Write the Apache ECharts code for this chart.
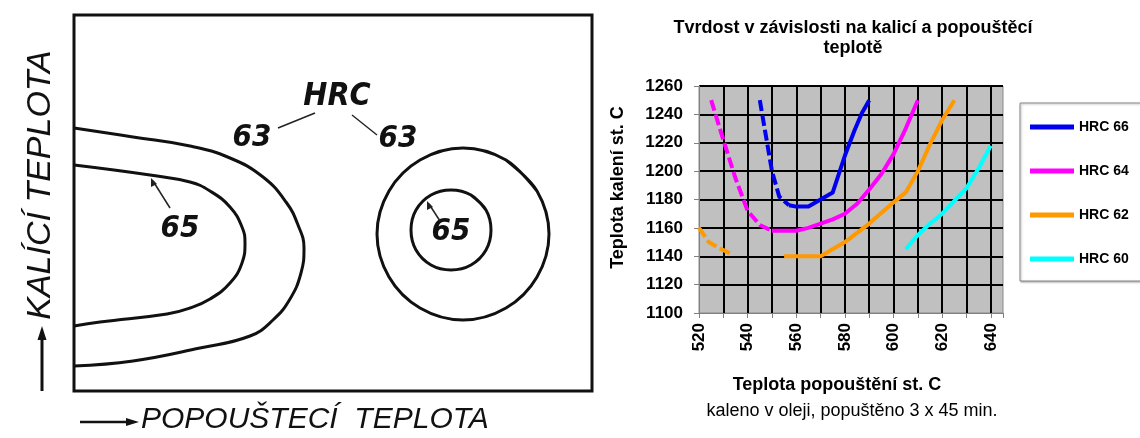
<!DOCTYPE html>
<html>
<head>
<meta charset="utf-8">
<script src="https://cdn.jsdelivr.net/npm/echarts@6/dist/echarts.min.js"></script>
<style>
  html, body { margin: 0; padding: 0; background: #fff; }
  #chart { width: 1140px; height: 438px; }
</style>
</head>
<body>
<div id="chart"></div>
<script>
// pravy graf - tvrdost HRC (popousteci teplota, kalici teplota)
var legendNames = ['HRC 66', 'HRC 64', 'HRC 62', 'HRC 60'];
var hrc66Solid = [[557, 1176], [560, 1175], [565, 1175], [570, 1180], [575, 1185], [580, 1211], [584, 1229], [587, 1241], [590, 1250]];
var hrc66Dash = [[545, 1250], [550, 1200], [553, 1182], [557, 1176]];
var hrc64Solid = [[550, 1158], [560, 1158], [565, 1160], [570, 1163], [575, 1166], [580, 1170], [585, 1177], [590, 1187], [595, 1198], [600, 1212], [605, 1230], [610, 1250]];
var hrc64Dash = [[525, 1250], [530, 1222], [535, 1195], [540, 1172], [545, 1162], [550, 1158]];
var hrc62Solid = [[555, 1140], [570, 1140], [580, 1150], [590, 1163], [600, 1178], [605, 1185], [610, 1200], [615, 1219], [620, 1236], [625, 1250]];
var hrc62Dash = [[520, 1160], [524, 1150], [528, 1146], [534, 1141]];
var hrc60Solid = [[605, 1145], [610, 1155], [615, 1163], [620, 1170], [625, 1179], [630, 1188], [635, 1202], [640, 1218]];

// levy obrazek - izolinie HRC (souradnice v ramecku obrazku)
var left63 = [[74, 128], [133, 137], [190, 146], [230, 158], [263, 177], [286, 202], [298, 225], [304, 248], [301, 273], [290, 299], [273, 320], [250, 336], [200, 348], [133, 361], [74, 366]];
var left65 = [[74, 165], [150, 175], [190, 182], [210, 191], [230, 207], [242, 227], [245, 243], [242, 263], [230, 283], [210, 299], [190, 308], [167, 314], [100, 322], [74, 326]];
var right63 = [[537, 191], [506, 160], [463, 148], [420, 160], [389, 191], [377, 234], [389, 277], [420, 308], [463, 320], [506, 308], [537, 277], [549, 234], [537, 191], [506, 160]];
var right65 = [[486, 210], [471, 195], [451, 190], [431, 195], [416, 210], [411, 230], [416, 250], [431, 265], [451, 270], [471, 265], [486, 250], [491, 230], [486, 210], [471, 195]];

var colors = ['#0000ee', '#ff00ff', '#ff9900', '#00ffff'];
var font = "'Liberation Sans', Arial, sans-serif";
var drawFont = "'Liberation Sans Narrow', 'DejaVu Sans Condensed', sans-serif";

var chart = echarts.init(document.getElementById('chart'));

function hrcLine(name, data, color, dashed) {
  return {
    name: name,
    type: 'line',
    data: data,
    symbol: 'none',
    xAxisIndex: 0,
    yAxisIndex: 0,
    lineStyle: { color: color, width: 4, type: dashed ? [11, 4] : 'solid', join: 'round' },
    itemStyle: { color: color },
    z: 5
  };
}

function contour(name, data, smooth) {
  return {
    name: name,
    type: 'line',
    data: data,
    symbol: 'none',
    smooth: smooth,
    xAxisIndex: 1,
    yAxisIndex: 1,
    lineStyle: { color: '#111', width: 3 },
    z: 3
  };
}

var option = {
  animation: false,
  title: [
    {
      text: 'Tvrdost v závislosti na kalicí a popouštěcí\nteplotě',
      left: 853,
      top: 18,
      textAlign: 'center',
      padding: 0,
      textStyle: { fontFamily: font, fontSize: 18, fontWeight: 'bold', color: '#000', lineHeight: 20 }
    },
    {
      text: 'kaleno v oleji, popuštěno 3 x 45 min.',
      left: 852,
      top: 402,
      textAlign: 'center',
      padding: 0,
      textStyle: { fontFamily: font, fontSize: 18, fontWeight: 'normal', color: '#000' }
    }
  ],
  legend: {
    data: legendNames.map(function (n) { return { name: n, icon: 'rect' }; }),
    orient: 'vertical',
    left: 1020,
    top: 103,
    padding: [17, 40, 15, 10],
    itemGap: 30,
    itemWidth: 44,
    itemHeight: 5,
    backgroundColor: '#fff',
    borderColor: '#888',
    borderWidth: 1,
    shadowColor: 'rgba(0,0,0,0.3)',
    shadowBlur: 2,
    shadowOffsetX: 1,
    shadowOffsetY: 1,
    textStyle: { fontFamily: font, fontSize: 14, fontWeight: 'bold', color: '#000', lineHeight: 14 }
  },
  grid: [
    {
      left: 699, top: 86, width: 304, height: 227,
      show: true, backgroundColor: '#c0c0c0', borderColor: '#8a8a8a', borderWidth: 1
    },
    {
      left: 74, top: 15, width: 518, height: 376,
      show: true, backgroundColor: 'transparent', borderColor: '#111', borderWidth: 3
    }
  ],
  xAxis: [
    {
      type: 'value', gridIndex: 0, min: 520, max: 645, interval: 10,
      name: 'Teplota popouštění st. C',
      nameLocation: 'middle', nameGap: 63,
      nameTextStyle: { fontFamily: font, fontSize: 18, fontWeight: 'bold', color: '#000', padding: [0, 28, 0, 0] },
      axisLine: { lineStyle: { color: '#808080', width: 1 } },
      axisTick: { length: 5, lineStyle: { color: '#808080' } },
      axisLabel: {
        rotate: 90, margin: 10, fontFamily: font, fontSize: 17, fontWeight: 'bold', color: '#000',
        formatter: function (v) { return v % 20 === 0 ? String(v) : ''; }
      },
      splitLine: { show: true, showMinLine: false, showMaxLine: false, lineStyle: { color: '#000', width: 2 } }
    },
    {
      type: 'value', gridIndex: 1, min: 74, max: 592, show: false, splitLine: { show: false }
    }
  ],
  yAxis: [
    {
      type: 'value', gridIndex: 0, min: 1100, max: 1260, interval: 20,
      name: 'Teplota kalení st. C',
      nameLocation: 'middle', nameGap: 72,
      nameTextStyle: { fontFamily: font, fontSize: 18, fontWeight: 'bold', color: '#000', padding: [0, 0, 0, 24] },
      axisLine: { show: true, lineStyle: { color: '#808080', width: 1 } },
      axisTick: { show: true, length: 5, lineStyle: { color: '#808080' } },
      axisLabel: {
        margin: 16, fontFamily: font, fontSize: 17, fontWeight: 'bold', color: '#000',
        formatter: function (v) { return String(v); }
      },
      splitLine: { show: true, showMinLine: false, lineStyle: { color: '#000', width: 2 } }
    },
    {
      type: 'value', gridIndex: 1, min: 15, max: 391, inverse: true, show: false, splitLine: { show: false }
    }
  ],
  series: [
    hrcLine('HRC 66', hrc66Solid, colors[0], false),
    hrcLine('HRC 66', hrc66Dash, colors[0], true),
    hrcLine('HRC 64', hrc64Solid, colors[1], false),
    hrcLine('HRC 64', hrc64Dash, colors[1], true),
    hrcLine('HRC 62', hrc62Solid, colors[2], false),
    hrcLine('HRC 62', hrc62Dash, colors[2], true),
    hrcLine('HRC 60', hrc60Solid, colors[3], false),
    contour('izo63L', left63, 0.45),
    contour('izo65L', left65, 0.45),
    contour('izo63R', right63, 0.35),
    contour('izo65R', right65, 0.35)
  ],
  graphic: [
    // popisky leveho obrazku
    {
      type: 'text', x: 41, y: 185, rotation: Math.PI / 2,
      style: { text: 'KALÍCÍ TEPLOTA', font: 'italic 34px ' + font, fill: '#111', align: 'center', verticalAlign: 'middle' }
    },
    { type: 'line', shape: { x1: 42, y1: 391, x2: 42, y2: 336 }, style: { stroke: '#111', lineWidth: 3 } },
    { type: 'polygon', shape: { points: [[42, 326], [37.5, 340], [46.5, 340]] }, style: { fill: '#111' } },
    { type: 'line', shape: { x1: 80, y1: 422, x2: 128, y2: 422 }, style: { stroke: '#111', lineWidth: 2.5 } },
    { type: 'polygon', shape: { points: [[139, 422], [126, 418], [126, 426]] }, style: { fill: '#111' } },
    {
      type: 'text', x: 141, y: 420,
      style: { text: 'POPOUŠTECÍ  TEPLOTA', font: 'italic 30px ' + font, fill: '#111', align: 'left', verticalAlign: 'middle' }
    },
    {
      type: 'text', x: 337, y: 97,
      style: { text: 'HRC', font: 'italic bold 32px ' + drawFont, fill: '#111', align: 'center', verticalAlign: 'middle' }
    },
    {
      type: 'text', x: 252, y: 138,
      style: { text: '63', font: 'italic bold 31px ' + drawFont, fill: '#111', align: 'center', verticalAlign: 'middle' }
    },
    {
      type: 'text', x: 398, y: 139,
      style: { text: '63', font: 'italic bold 31px ' + drawFont, fill: '#111', align: 'center', verticalAlign: 'middle' }
    },
    {
      type: 'text', x: 180, y: 229,
      style: { text: '65', font: 'italic bold 31px ' + drawFont, fill: '#111', align: 'center', verticalAlign: 'middle' }
    },
    {
      type: 'text', x: 451, y: 232,
      style: { text: '65', font: 'italic bold 31px ' + drawFont, fill: '#111', align: 'center', verticalAlign: 'middle' }
    },
    { type: 'line', shape: { x1: 278, y1: 128, x2: 315, y2: 113 }, style: { stroke: '#222', lineWidth: 1.5 } },
    { type: 'line', shape: { x1: 352, y1: 115, x2: 377, y2: 135 }, style: { stroke: '#222', lineWidth: 1.5 } },
    { type: 'line', shape: { x1: 170, y1: 208, x2: 153, y2: 181 }, style: { stroke: '#222', lineWidth: 1.5 } },
    { type: 'polygon', shape: { points: [[151, 178], [151, 187], [157, 184]] }, style: { fill: '#222' } },
    { type: 'line', shape: { x1: 440, y1: 221, x2: 429, y2: 204 }, style: { stroke: '#222', lineWidth: 1.5 } },
    { type: 'polygon', shape: { points: [[427, 201], [427, 210], [433, 207]] }, style: { fill: '#222' } }
  ]
};

chart.setOption(option);
</script>
</body>
</html>
